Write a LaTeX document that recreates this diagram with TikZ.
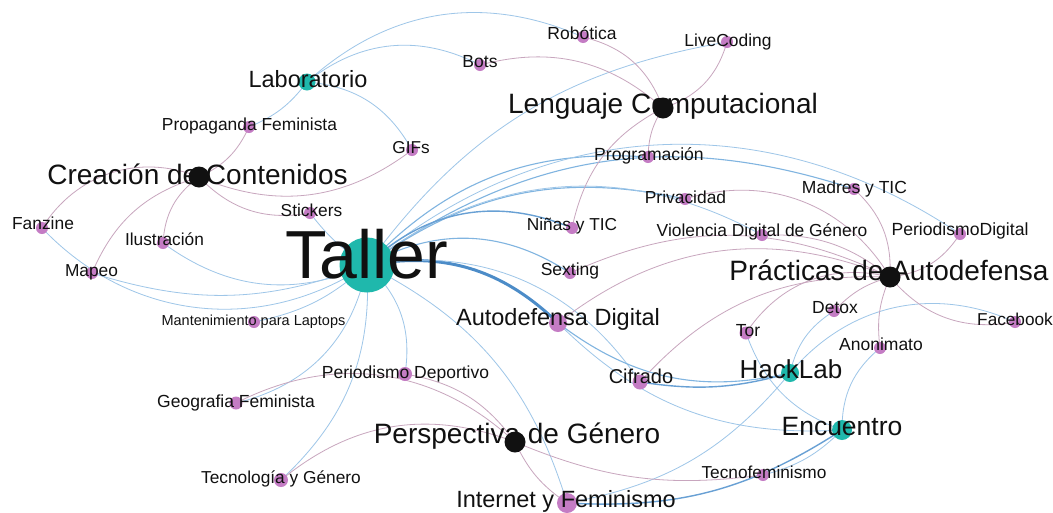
\documentclass[tikz,border=0pt]{standalone}
\usepackage{fontspec}
\setmainfont{Liberation Sans}
\definecolor{tealn}{RGB}{31,184,172}
\definecolor{pinkn}{RGB}{196,124,196}
\definecolor{blkn}{RGB}{17,17,17}
\definecolor{eblue}{RGB}{158,198,232}
\definecolor{eblueh}{RGB}{128,180,224}
\definecolor{eblueb}{RGB}{104,160,212}
\definecolor{ebluec}{RGB}{76,140,200}
\definecolor{emauve}{RGB}{200,166,190}
\pgfdeclarelayer{bg}
\pgfsetlayers{bg,main}
\newcommand{\lblfs}[1]{\fontsize{#1}{#1}\selectfont}
\tikzset{
  dot/.style={circle, inner sep=0pt, minimum size=#1},
  tnode/.style={dot=#1, fill=tealn},
  knode/.style={dot=#1, fill=blkn},
  pnode/.style={dot=#1, fill=pinkn},
  lbl/.style={anchor=base, inner sep=0pt, text=blkn, font=\lblfs{#1}},
  be/.style={draw=eblue, line width=0.8pt},
  bh/.style={draw=eblueh, line width=1.1pt},
  bm/.style={draw=eblueb, line width=1.4pt},
  bt/.style={draw=ebluec, line width=3pt},
  me/.style={draw=emauve, line width=0.8pt},
}
\begin{document}
\begin{tikzpicture}[x=1pt,y=-1pt]
\useasboundingbox (0,0) rectangle (1053,512);
% nodes
\node[tnode=55] (T) at (367,265) {};
\node[tnode=17] (Lab) at (307,82) {};
\node[tnode=18] (HL) at (790,373) {};
\node[tnode=20] (EN) at (842,430) {};
\node[knode=21] (LC) at (663,108) {};
\node[knode=21] (CC) at (199,177) {};
\node[knode=21] (PA) at (890,277) {};
\node[knode=21] (PG) at (515,442) {};
\node[pnode=12] (Rob) at (583,37) {};
\node[pnode=12] (Live) at (727,42) {};
\node[pnode=12] (Bots) at (480,65) {};
\node[pnode=12] (Prog) at (648,157) {};
\node[pnode=12] (Mad) at (854,189) {};
\node[pnode=12] (Priv) at (685,199) {};
\node[pnode=12] (Nin) at (572,228) {};
\node[pnode=12] (Vio) at (762,235) {};
\node[pnode=12] (PDig) at (960,234) {};
\node[pnode=12] (Prop) at (249,127) {};
\node[pnode=12] (GIF) at (412,150) {};
\node[pnode=12] (Stk) at (310,213) {};
\node[pnode=12] (Fan) at (42,228) {};
\node[pnode=12] (Ilu) at (163,243) {};
\node[pnode=12] (Map) at (92,273) {};
\node[pnode=12] (Man) at (254,322) {};
\node[pnode=14] (PDep) at (405,374) {};
\node[pnode=13] (Geo) at (236,403) {};
\node[pnode=14] (TyG) at (281,480) {};
\node[pnode=12] (Sex) at (570,273) {};
\node[pnode=18] (AD) at (558,323) {};
\node[pnode=15] (Cif) at (640,382) {};
\node[pnode=13] (Tor) at (746,333) {};
\node[pnode=12] (Det) at (834,311) {};
\node[pnode=12] (Ano) at (880,348) {};
\node[pnode=12] (Fb) at (1015,322) {};
\node[pnode=12] (TFem) at (763,475) {};
\node[pnode=20] (IyF) at (567,503) {};
% edges
\begin{pgfonlayer}{bg}
\fill[white] (0,0) rectangle (1053,512);
% Taller
\draw[be] (T.center) to[bend left=22] (Live.center);
\draw[bh] (T.center) to[bend left=25] (Prog.center);
\draw[be] (T.center) to[bend left=37] (PDig.center);
\draw[bh] (T.center) to[bend left=27] (Mad.center);
\draw[bh] (T.center) to[bend left=24] (Priv.center);
\draw[be] (T.center) to[bend left=33] (Vio.center);
\draw[bm] (T.center) to[bend left=33] (Nin.center);
\draw[bh] (T.center) to[bend left=31] (Sex.center);
\draw[bt] (T.center) to[bend left=27] (AD.center);
\draw[be] (T.center) to[bend left=33] (Cif.center);
\draw[be] (T.center) to[bend left=23] (IyF.center);
\draw[be] (T.center) to[bend left=25] (TyG.center);
\draw[be] (T.center) to[bend left=33] (Geo.center);
\draw[be] (T.center) to[bend left=28] (PDep.center);
\draw[be] (T.center) to[bend left=15] (Man.center);
\draw[be] (T.center) to[bend left=19] (Map.center);
\draw[be] (T.center) to[bend left=40] (Fan.center);
\draw[be] (T.center) to[bend left=30] (Ilu.center);
\draw[be] (T.center) to[bend left=10] (Stk.center);
% Laboratorio
\draw[be] (Lab.center) to[bend left=33] (Rob.center);
\draw[be] (Lab.center) to[bend left=33] (Bots.center);
\draw[be] (Lab.center) to[bend left=28] (GIF.center);
\draw[be] (Lab.center) to[bend left=15] (Prop.center);
% HackLab
\draw[bm] (HL.center) to[bend left=12] (Cif.center);
\draw[bh] (HL.center) to[bend left=25] (AD.center);
\draw[be] (HL.center) to[bend left=22] (Det.center);
\draw[be] (HL.center) to[bend left=37] (Fb.center);
\draw[be] (HL.center) to[bend left=20] (IyF.center);
% Encuentro
\draw[be] (EN.center) to[bend left=25] (Tor.center);
\draw[be] (EN.center) to[bend left=25] (Ano.center);
\draw[bm] (EN.center) to[bend left=18] (IyF.center);
\draw[be] (EN.center) to[bend left=15] (TFem.center);
\draw[be] (EN.center) to[bend left=24] (AD.center);
% Creacion
\draw[me] (CC.center) to[bend right=20] (Prop.center);
\draw[me] (CC.center) to[bend right=30] (GIF.center);
\draw[me] (CC.center) to[bend right=28] (Stk.center);
\draw[me] (CC.center) to[bend right=40] (Fan.center);
\draw[me] (CC.center) to[bend right=25] (Map.center);
\draw[me] (CC.center) to[bend right=25] (Ilu.center);
% Lenguaje
\draw[me] (LC.center) to[bend right=28] (Rob.center);
\draw[me] (LC.center) to[bend right=28] (Bots.center);
\draw[me] (LC.center) to[bend right=28] (Live.center);
\draw[me] (LC.center) to[bend right=15] (Prog.center);
\draw[me] (LC.center) to[bend right=25] (Nin.center);
% Practicas
\draw[me] (PA.center) to[bend right=25] (Mad.center);
\draw[me] (PA.center) to[bend right=25] (PDig.center);
\draw[me] (PA.center) to[bend right=38] (Priv.center);
\draw[me] (PA.center) to[bend right=20] (Vio.center);
\draw[me] (PA.center) to[bend right=25] (Sex.center);
\draw[me] (PA.center) to[bend right=30] (AD.center);
\draw[me] (PA.center) to[bend right=25] (Cif.center);
\draw[me] (PA.center) to[bend right=35] (Tor.center);
\draw[me] (PA.center) to[bend right=15] (Det.center);
\draw[me] (PA.center) to[bend right=15] (Ano.center);
\draw[me] (PA.center) to[bend right=30] (Fb.center);
% Perspectiva
\draw[me] (PG.center) to[bend right=22] (PDep.center);
\draw[me] (PG.center) to[bend right=35] (Geo.center);
\draw[me] (PG.center) to[bend right=30] (TyG.center);
\draw[me] (PG.center) to[bend right=15] (IyF.center);
\draw[me] (PG.center) to[bend right=15] (TFem.center);
\end{pgfonlayer}
% labels
\node[lbl=68] (lT) at (367,278) {Taller};
\node[lbl=23.5] (lLab) at (308,87) {Laboratorio};
\node[lbl=26] (lHL) at (791,378) {HackLab};
\node[lbl=26.5] (lEN) at (842,435) {Encuentro};
\node[lbl=28] (lLC) at (663,113) {Lenguaje Computacional};
\node[lbl=28] (lCC) at (197.5,184) {Creación de Contenidos};
\node[lbl=28] (lPA) at (889,280) {Prácticas de Autodefensa};
\node[lbl=28] (lPG) at (517,443) {Perspectiva de Género};
\node[lbl=17.5] (lRob) at (582,39) {Robótica};
\node[lbl=17.4] (lLive) at (728,46) {LiveCoding};
\node[lbl=17.5] (lBots) at (480,67) {Bots};
\node[lbl=17.6] (lProg) at (649,160) {Programación};
\node[lbl=17.5] (lMad) at (854.5,193) {Madres y TIC};
\node[lbl=17.4] (lPriv) at (685.5,203) {Privacidad};
\node[lbl=17.3] (lNin) at (572,230) {Niñas y TIC};
\node[lbl=17.4] (lVio) at (762,236) {Violencia Digital de Género};
\node[lbl=17.6] (lPDig) at (960,235) {PeriodismoDigital};
\node[lbl=17.4] (lProp) at (249.5,130) {Propaganda Feminista};
\node[lbl=17.2] (lGIF) at (411,153) {GIFs};
\node[lbl=17.3] (lStk) at (311.5,216) {Stickers};
\node[lbl=17.4] (lFan) at (43,229) {Fanzine};
\node[lbl=17.3] (lIlu) at (164.5,245) {Ilustración};
\node[lbl=17.3] (lMap) at (91.5,276) {Mapeo};
\node[lbl=14.5] (lMan) at (253.5,325) {Mantenimiento para Laptops};
\node[lbl=17.5] (lPDep) at (405.5,378) {Periodismo Deportivo};
\node[lbl=17.5] (lGeo) at (236,407) {Geografia Feminista};
\node[lbl=17.3] (lTyG) at (281,483) {Tecnología y Género};
\node[lbl=17.5] (lSex) at (570,275) {Sexting};
\node[lbl=23.5] (lAD) at (558,325) {Autodefensa Digital};
\node[lbl=20] (lCif) at (641,383) {Cifrado};
\node[lbl=17.5] (lTor) at (748,336) {Tor};
\node[lbl=17.5] (lDet) at (835,313) {Detox};
\node[lbl=17.5] (lAno) at (881,350) {Anonimato};
\node[lbl=17.2] (lFb) at (1015,325) {Facebook};
\node[lbl=17.3] (lTFem) at (764,478) {Tecnofeminismo};
\node[lbl=23.5] (lIyF) at (566,507) {Internet y Feminismo};
\end{tikzpicture}
\end{document}
